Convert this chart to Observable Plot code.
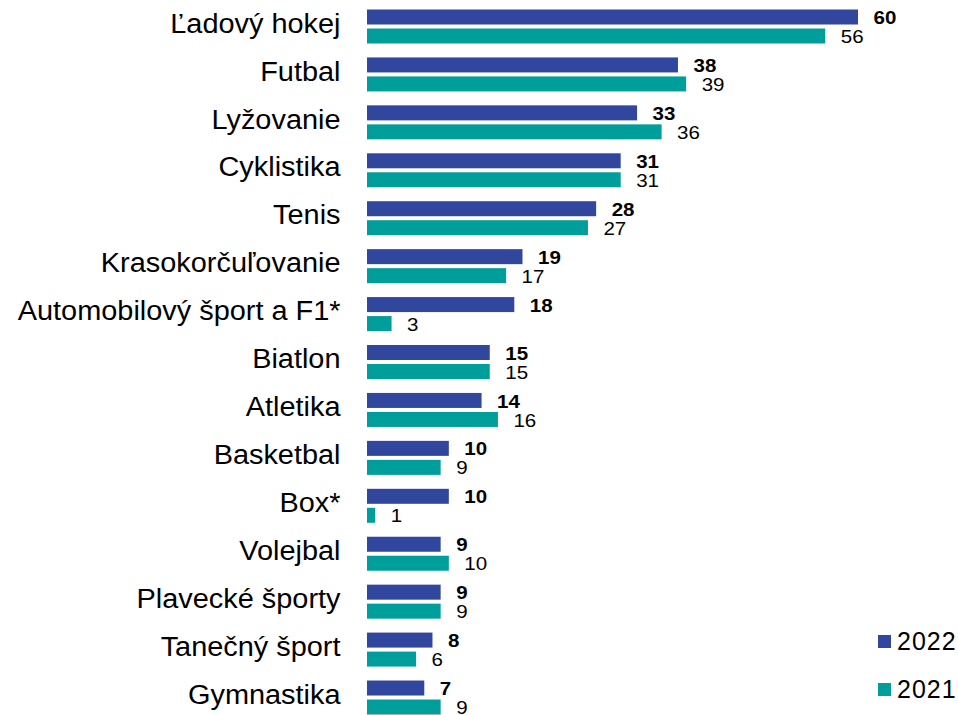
<!DOCTYPE html>
<html>
<head>
<meta charset="utf-8">
<script src="https://cdn.jsdelivr.net/npm/d3@7"></script>
<script src="https://cdn.jsdelivr.net/npm/@observablehq/plot@0.6"></script>
<style>
  html, body { margin: 0; padding: 0; background: #fff; }
  #wrap { position: relative; width: 958px; height: 715px; font-family: "Liberation Sans", Arial, sans-serif; }
  .leg { position: absolute; left: 878px; font-size: 25px; letter-spacing: 1px; color: #000; display: flex; align-items: center; }
  .leg .sw { width: 13px; height: 13px; margin-right: 6px; }
</style>
</head>
<body>
<div id="wrap"></div>
<script>
const categories = ["Ľadový hokej","Futbal","Lyžovanie","Cyklistika","Tenis","Krasokorčuľovanie","Automobilový šport a F1*","Biatlon","Atletika","Basketbal","Box*","Volejbal","Plavecké športy","Tanečný šport","Gymnastika"];
const values2022 = [60,38,33,31,28,19,18,15,14,10,10,9,9,8,7];
const values2021 = [56,39,36,31,27,17,3,15,16,9,1,10,9,6,9];
const seriesNames = ["2022","2021"];
const colors = ["#31479e","#009e9a"];

const d22 = categories.map((c,i) => ({cat: c, v: values2022[i]}));
const d21 = categories.map((c,i) => ({cat: c, v: values2021[i]}));

const step = 47.93;
const firstCenter = 26.5;
const y0 = firstCenter - step/2;

const chart = Plot.plot({
  width: 958,
  height: 715,
  marginLeft: 367,
  marginRight: 100,
  marginTop: 0,
  marginBottom: 0,
  style: {fontFamily: '"Liberation Sans", Arial, sans-serif', color: "#000", background: "#fff"},
  x: {domain: [0, 60], range: [367, 858], axis: null},
  y: {type: "band", domain: categories, range: [y0, y0 + step*categories.length], padding: 0, round: false, axis: null},
  marks: [
    Plot.barX(d22, {y: "cat", x: "v", fill: colors[0], insetTop: step/2 - 17, insetBottom: step/2 + 2}),
    Plot.barX(d21, {y: "cat", x: "v", fill: colors[1], insetTop: step/2 + 2, insetBottom: step/2 - 17}),
    Plot.text(d22, {y: "cat", x: "v", text: d => String(d.v), dx: 15, dy: -9, textAnchor: "start", fontSize: 19, fontWeight: "bold", fill: "#000", className: "vlab"}),
    Plot.text(d21, {y: "cat", x: "v", text: d => String(d.v), dx: 15, dy: 10, textAnchor: "start", fontSize: 19, fill: "#000", className: "vlab"}),
    Plot.text(categories, {y: d => d, x: () => 0, text: d => d, dx: -27, dy: -3, textAnchor: "end", fontSize: 27, fill: "#000", className: "clab"})
  ]
});

const wrap = document.getElementById("wrap");
wrap.appendChild(chart);

// slight horizontal stretch of texts, as in the reference typeface rendering
function stretch(sel, k) {
  chart.querySelectorAll(sel + " text").forEach(t => {
    const len = t.getComputedTextLength();
    if (len > 0) {
      t.setAttribute("textLength", (len * k).toFixed(2));
      t.setAttribute("lengthAdjust", "spacingAndGlyphs");
    }
  });
}
stretch(".clab", 1.07);
stretch(".vlab", 1.08);

const legTops = [627, 675];
seriesNames.forEach((s, i) => {
  const el = document.createElement("div");
  el.className = "leg";
  el.style.top = legTops[i] + "px";
  el.innerHTML = `<span class="sw" style="background:${colors[i]}"></span><span>${s}</span>`;
  wrap.appendChild(el);
});
</script>
</body>
</html>
